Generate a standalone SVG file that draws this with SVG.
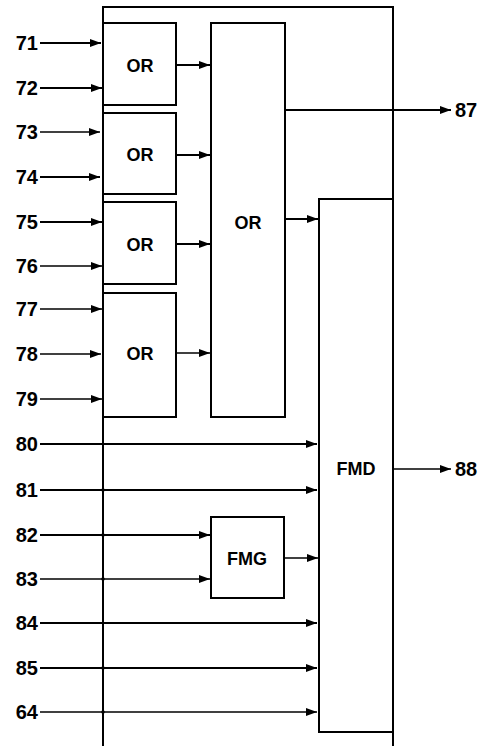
<svg xmlns="http://www.w3.org/2000/svg" width="484" height="746" viewBox="0 0 484 746">
<style>
.box{fill:#fff;stroke:#000;stroke-width:2}
.w{stroke:#000;stroke-width:2;fill:none}
.t{stroke:#000;stroke-width:1.4;fill:none}
.lbl{font-family:"Liberation Sans",Arial,sans-serif;font-weight:bold;font-size:20px;fill:#000}
.bl{font-family:"Liberation Sans",Arial,sans-serif;font-weight:bold;font-size:18px;fill:#000;text-anchor:middle}
</style>
<defs>
<marker id="ah" viewBox="0 0 11 8" refX="11" refY="4" markerWidth="11" markerHeight="8" markerUnits="userSpaceOnUse" orient="auto">
<path d="M0,0 L11,4 L0,8 Z" fill="#000"/>
</marker>
</defs>
<g id="frame">
<path class="w" d="M103,746 V7 H393 V746"/>
</g>
<g id="or1"><rect class="box" x="103" y="23" width="73" height="82"/><text class="bl" x="140" y="72">OR</text></g>
<g id="or2"><rect class="box" x="103" y="113" width="73" height="81"/><text class="bl" x="140" y="161">OR</text></g>
<g id="or3"><rect class="box" x="103" y="202" width="73" height="82"/><text class="bl" x="140" y="251">OR</text></g>
<g id="or4"><rect class="box" x="103" y="293" width="73" height="124"/><text class="bl" x="140" y="360">OR</text></g>
<g id="or5"><rect class="box" x="211" y="23" width="74" height="394"/><text class="bl" x="248" y="229">OR</text></g>
<g id="fmg"><rect class="box" x="211" y="517" width="73" height="81"/><text class="bl" x="247" y="565">FMG</text></g>
<g id="fmd"><rect class="box" x="319" y="199" width="74" height="533"/><text class="bl" x="356" y="475">FMD</text></g>
<g id="labels">
<text class="lbl" x="38" y="50" text-anchor="end">71</text>
<text class="lbl" x="38" y="95" text-anchor="end">72</text>
<text class="lbl" x="38" y="139" text-anchor="end">73</text>
<text class="lbl" x="38" y="184" text-anchor="end">74</text>
<text class="lbl" x="38" y="229" text-anchor="end">75</text>
<text class="lbl" x="38" y="273" text-anchor="end">76</text>
<text class="lbl" x="38" y="316" text-anchor="end">77</text>
<text class="lbl" x="38" y="361" text-anchor="end">78</text>
<text class="lbl" x="38" y="406" text-anchor="end">79</text>
<text class="lbl" x="38" y="451" text-anchor="end">80</text>
<text class="lbl" x="38" y="497" text-anchor="end">81</text>
<text class="lbl" x="38" y="542" text-anchor="end">82</text>
<text class="lbl" x="38" y="586" text-anchor="end">83</text>
<text class="lbl" x="38" y="630" text-anchor="end">84</text>
<text class="lbl" x="38" y="675" text-anchor="end">85</text>
<text class="lbl" x="38" y="719" text-anchor="end">64</text>
<text class="lbl" x="455" y="117">87</text>
<text class="lbl" x="455" y="476">88</text>
</g>
<g id="connectors">
<path class="w" marker-end="url(#ah)" d="M40,43 H101"/>
<path class="w" marker-end="url(#ah)" d="M40,88 H102"/>
<path class="t" marker-end="url(#ah)" d="M40,132 H100"/>
<path class="w" marker-end="url(#ah)" d="M40,177 H100"/>
<path class="w" marker-end="url(#ah)" d="M40,222 H102"/>
<path class="t" marker-end="url(#ah)" d="M40,266 H102"/>
<path class="t" marker-end="url(#ah)" d="M40,309 H102"/>
<path class="t" marker-end="url(#ah)" d="M40,354 H101"/>
<path class="t" marker-end="url(#ah)" d="M40,399 H102"/>
<path class="w" marker-end="url(#ah)" d="M176,65 H210"/>
<path class="w" marker-end="url(#ah)" d="M176,155 H210"/>
<path class="w" marker-end="url(#ah)" d="M176,244 H210"/>
<path class="t" marker-end="url(#ah)" d="M176,353 H210"/>
<path class="w" marker-end="url(#ah)" d="M285,110 H451"/>
<path class="w" marker-end="url(#ah)" d="M285,219 H318"/>
<path class="w" marker-end="url(#ah)" d="M40,444 H317"/>
<path class="w" marker-end="url(#ah)" d="M40,490 H317"/>
<path class="w" marker-end="url(#ah)" d="M40,535 H210"/>
<path class="t" marker-end="url(#ah)" d="M40,579 H210"/>
<path class="t" marker-end="url(#ah)" d="M284,558 H318"/>
<path class="w" marker-end="url(#ah)" d="M40,623 H317"/>
<path class="w" marker-end="url(#ah)" d="M40,668 H317"/>
<path class="t" marker-end="url(#ah)" d="M40,712 H317"/>
<path class="t" marker-end="url(#ah)" d="M393,469 H451"/>
<circle cx="103" cy="490" r="1.8"/>
<circle cx="103" cy="535" r="1.8"/>
<circle cx="103" cy="579" r="1.8"/>
<circle cx="103" cy="668" r="1.8"/>
<circle cx="103" cy="712" r="1.8"/>
</g>
</svg>
